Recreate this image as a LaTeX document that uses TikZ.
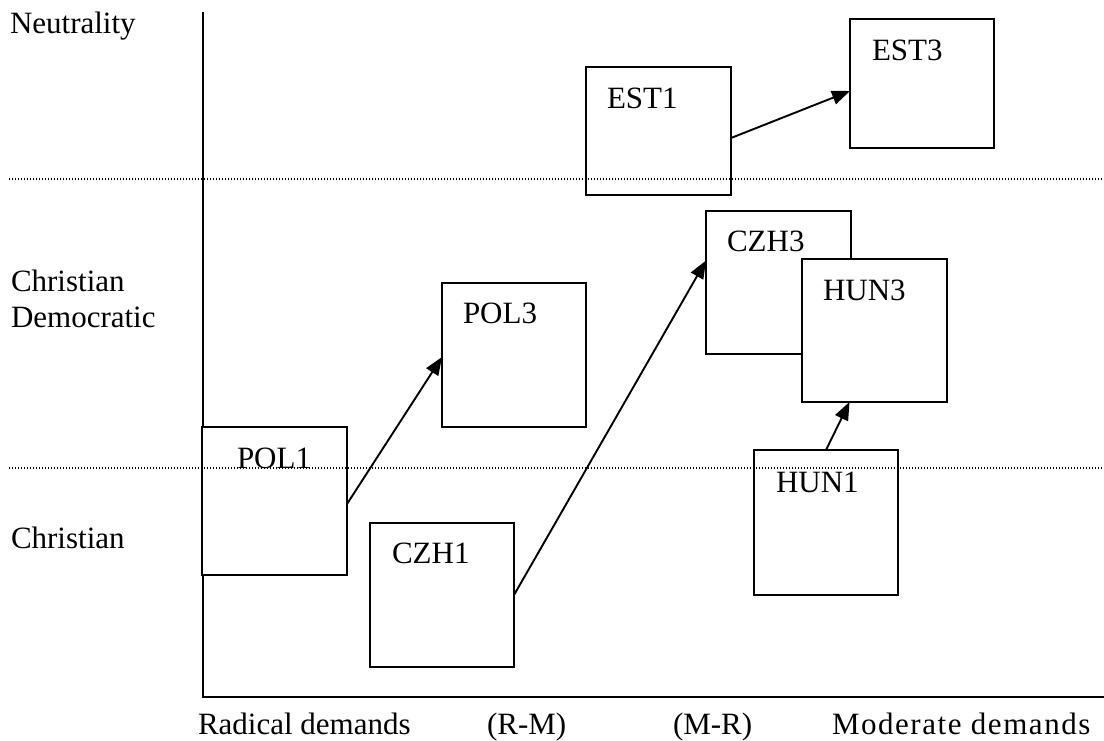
\documentclass[tikz,border=0pt]{standalone}
\usepackage{fontspec}
\setmainfont{Liberation Serif}
\newfontfamily\widefont[LetterSpace=5]{Liberation Serif}
\usetikzlibrary{arrows.meta,calc}
\begin{document}
\begin{tikzpicture}[x=1pt,y=-1pt,
  box/.style={draw=black, fill=white, line width=2pt, anchor=north west, inner sep=0pt, outer sep=0pt},
  lab/.style={anchor=base west, inner sep=0pt, outer sep=0pt, font=\fontsize{31}{36}\selectfont},
  conn/.style={line width=1.9pt, -{Triangle[length=18pt,width=14pt]}},
  axisline/.style={line width=1.8pt},
  sep/.style={line width=1.3pt, dash pattern=on 1.2pt off 1.8pt}]
\useasboundingbox (0,0) rectangle (1104,740);

% axes
\coordinate (ytop) at (203,12);
\coordinate (orig) at (203,697);
\coordinate (xend) at (1104,697);
\draw[axisline] (ytop) -- (orig) -- (xend);

% boxes
\node[box, minimum width=145pt, minimum height=128pt] (est1) at (586,67) {};
\node[box, minimum width=144pt, minimum height=129pt] (est3) at (850,19) {};
\node[box, minimum width=145pt, minimum height=143pt] (czh3) at (706,211) {};
\node[box, minimum width=145pt, minimum height=143pt] (hun3) at (802,259) {};
\node[box, minimum width=144pt, minimum height=144pt] (pol3) at (442,283) {};
\node[box, minimum width=145pt, minimum height=148pt] (pol1) at (202,427) {};
\node[box, minimum width=144pt, minimum height=144pt] (czh1) at (370,523) {};
\node[box, minimum width=144pt, minimum height=145pt] (hun1) at (754,450) {};

% dotted separators
\coordinate (s1a) at (9,179);
\coordinate (s1b) at (1104,179);
\coordinate (s2a) at (9,468);
\coordinate (s2b) at (1104,468);
\draw[sep] (s1a) -- (s1b);
\draw[sep] (s2a) -- (s2b);

% box labels
\node[lab] (est1l) at (607,108) {EST1};
\node[lab] (est3l) at (872,60) {EST3};
\node[lab] (czh3l) at (727,251) {CZH3};
\node[lab] (hun3l) at (823,300) {HUN3};
\node[lab] (pol3l) at (463,323) {POL3};
\node[lab] (pol1l) at (237,468) {POL1};
\node[lab] (czh1l) at (392,563) {CZH1};
\node[lab] (hun1l) at (776,492) {HUN1};

% connectors
\draw[conn] ([yshift=-7pt]est1.east) -- ([yshift=-7.5pt]est3.west);
\draw[conn] ([yshift=-3pt]pol1.east) -- ([yshift=-2pt]pol3.west);
\draw[conn] (czh1.east) -- ([yshift=22pt]czh3.west);
\draw[conn] (hun1.north) -- ([xshift=-25pt]hun3.south);

% axis labels
\node[lab] (neut) at (10,33) {Neutrality};
\node[lab] (cd1) at (11,291) {Christian};
\node[lab] (cd2) at (11,327) {Democratic};
\node[lab] (chr) at (11,548) {Christian};
\node[lab] (rad) at (198,734) {Radical demands};
\node[lab] (rm) at (487,734) {(R-M)};
\node[lab] (mr) at (673,734) {(M-R)};
\node[lab, font=\widefont\fontsize{31}{36}\selectfont] (mod) at (832,734) {Moderate demands};
\end{tikzpicture}
\end{document}
